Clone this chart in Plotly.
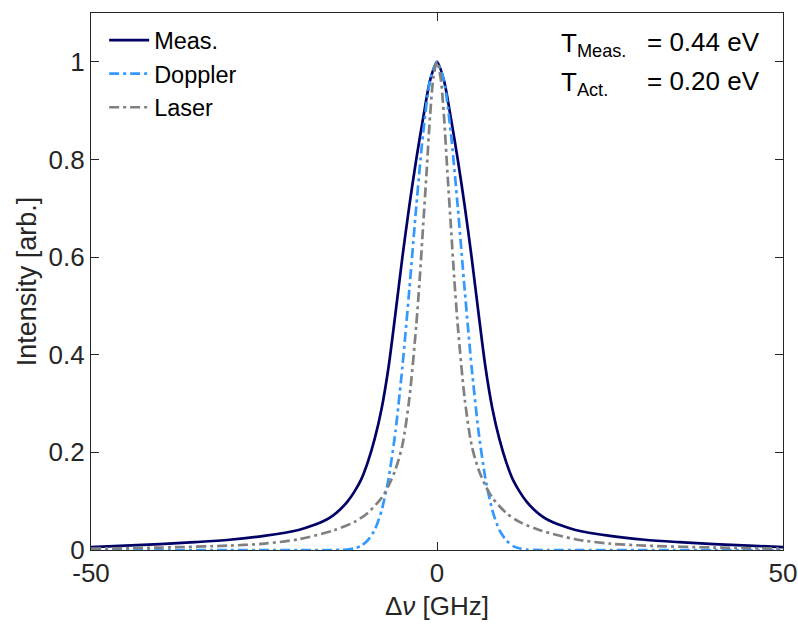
import plotly.graph_objects as go

# ---- data ----
meas_x = [-50, -45, -40, -35, -30, -25, -20, -18, -16, -15, -14, -13, -12, -11, -10, -9, -8, -7, -6, -5,
          -4, -3, -2, -1, 0, 1, 2, 3, 4, 5, 6, 7, 8, 9, 10, 11, 12, 13, 14, 15, 16, 18, 20, 25, 30, 35,
          40, 45, 50]
meas_y = [0.006, 0.009, 0.012, 0.016, 0.021, 0.029, 0.041, 0.050, 0.062, 0.071, 0.083, 0.098, 0.118,
          0.143, 0.180, 0.228, 0.290, 0.375, 0.485, 0.600, 0.705, 0.800, 0.885, 0.962, 1.000,
          0.962, 0.885, 0.800, 0.705, 0.600, 0.485, 0.375, 0.290, 0.228, 0.180, 0.143, 0.118, 0.098,
          0.083, 0.071, 0.062, 0.050, 0.041, 0.029, 0.021, 0.016, 0.012, 0.009, 0.006]

dop_x = [-50, -40, -30, -20, -16, -14, -13, -12, -11, -10, -9, -8, -7, -6, -5, -4, -3, -2, -1,
         0, 1, 2, 3, 4, 5, 6, 7, 8, 9, 10, 11, 12, 13, 14, 16, 20, 30, 40, 50]
dop_y = [0, 0, 0, 0, 0, 0.0002, 0.001, 0.003, 0.008, 0.020, 0.041, 0.081, 0.146, 0.243, 0.375, 0.533,
         0.703, 0.855, 0.962,
         1.000, 0.962, 0.855, 0.703, 0.533, 0.375, 0.243, 0.146, 0.081, 0.041, 0.020, 0.008, 0.003, 0.001,
         0.0002, 0, 0, 0, 0, 0]

las_x = [-50, -40, -30, -25, -20, -15, -12, -10, -8, -7, -6, -5, -4, -3, -2.5, -2, -1.5, -1, -0.5,
         0, 0.5, 1, 1.5, 2, 2.5, 3, 4, 5, 6, 7, 8, 10, 12, 15, 20, 25, 30, 40, 50]
las_y = [0.003, 0.005, 0.009, 0.013, 0.022, 0.040, 0.057, 0.076, 0.107, 0.132, 0.165, 0.215, 0.310,
         0.460, 0.555, 0.665, 0.775, 0.890, 0.970,
         1.000, 0.970, 0.890, 0.775, 0.665, 0.555, 0.460, 0.310, 0.215, 0.165, 0.132, 0.107, 0.076, 0.057,
         0.040, 0.022, 0.013, 0.009, 0.005, 0.003]

x_ticks = [-50, 0, 50]
x_tick_text = ["-50", "0", "50"]
y_ticks = [0, 0.2, 0.4, 0.6, 0.8, 1]
y_tick_text = ["0", "0.2", "0.4", "0.6", "0.8", "1"]

FONT = "Liberation Sans, Arial, sans-serif"
AX = "#262626"

fig = go.Figure()
fig.add_trace(go.Scatter(x=meas_x, y=meas_y, mode="lines", name="Meas.",
                         line=dict(color="#000066", width=2.7, shape="spline", smoothing=0.8)))
fig.add_trace(go.Scatter(x=dop_x, y=dop_y, mode="lines", name="Doppler",
                         line=dict(color="#3399FF", width=2.7, shape="spline", smoothing=0.6,
                                   dash="10px,4px,3px,4px")))
fig.add_trace(go.Scatter(x=las_x, y=las_y, mode="lines", name="Laser",
                         line=dict(color="#808080", width=2.7, shape="spline", smoothing=0.8,
                                   dash="10px,4px,3px,4px")))

axis_common = dict(showline=True, linecolor=AX, linewidth=1.3, mirror="ticks", ticks="inside",
                   ticklen=8, tickwidth=1.3, tickcolor=AX, showgrid=False, zeroline=False,
                   tickfont=dict(family=FONT, size=26, color=AX))

fig.update_xaxes(range=[-50, 50], tickvals=x_ticks, ticktext=x_tick_text,
                 title=dict(text="Δ<i>ν</i> [GHz]", font=dict(family=FONT, size=26, color=AX), standoff=9),
                 **axis_common)
fig.update_yaxes(range=[0, 1.1], tickvals=y_ticks, ticktext=y_tick_text,
                 title=dict(text="Intensity [arb.]", font=dict(family=FONT, size=27, color=AX), standoff=4),
                 **axis_common)

ANN = 26
fig.add_annotation(xref="paper", yref="paper", x=0.676, y=0.975, xanchor="left", yanchor="top",
                   text="T<sub>Meas.</sub>", showarrow=False, font=dict(family=FONT, size=ANN, color="black"))
fig.add_annotation(xref="paper", yref="paper", x=0.800, y=0.946, xanchor="left", yanchor="middle",
                   text="= 0.44 eV", showarrow=False, font=dict(family=FONT, size=ANN, color="black"))
fig.add_annotation(xref="paper", yref="paper", x=0.676, y=0.904, xanchor="left", yanchor="top",
                   text="T<sub>Act.</sub>", showarrow=False, font=dict(family=FONT, size=ANN, color="black"))
fig.add_annotation(xref="paper", yref="paper", x=0.800, y=0.874, xanchor="left", yanchor="middle",
                   text="= 0.20 eV", showarrow=False, font=dict(family=FONT, size=ANN, color="black"))

fig.update_layout(
    width=798, height=631,
    margin=dict(l=91, r=15, t=13, b=81, autoexpand=False),
    paper_bgcolor="white", plot_bgcolor="white",
    showlegend=True,
    legend=dict(x=0.019, y=0.99, xanchor="left", yanchor="top", bgcolor="rgba(0,0,0,0)",
                font=dict(family=FONT, size=23.5, color="black"), tracegroupgap=0, itemwidth=40),
    font=dict(family=FONT),
)

fig.write_html("out.html")
